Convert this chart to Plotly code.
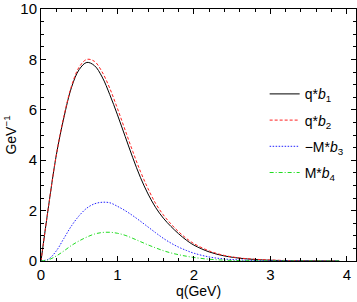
import plotly.graph_objects as go

q = [0, 0.1, 0.2, 0.3, 0.4, 0.5, 0.6, 0.7, 0.8, 0.9, 1.0, 1.1, 1.2, 1.3, 1.4, 1.5, 1.6, 1.7, 1.8, 1.9,
     2.0, 2.2, 2.4, 2.6, 2.8, 3.0, 3.3, 3.6, 3.9]
qb1 = [0, 2.2, 4.2, 5.7, 6.9, 7.6, 7.88, 7.75, 7.3, 6.6, 5.8, 4.95, 4.1, 3.32, 2.66, 2.12, 1.7, 1.37, 1.08, 0.83,
       0.63, 0.36, 0.2, 0.11, 0.06, 0.03, 0.01, 0.005, 0]
qb2 = [0, 2.2, 4.2, 5.75, 6.95, 7.7, 8.0, 7.92, 7.5, 6.85, 6.05, 5.2, 4.35, 3.56, 2.87, 2.28, 1.83, 1.47, 1.16, 0.9,
       0.69, 0.4, 0.22, 0.12, 0.07, 0.04, 0.015, 0.005, 0]
mb3 = [0, 0.08, 0.4, 0.9, 1.4, 1.8, 2.1, 2.27, 2.33, 2.31, 2.17, 2.0, 1.8, 1.58, 1.35, 1.12, 0.9, 0.71, 0.55, 0.42,
       0.31, 0.16, 0.08, 0.04, 0.02, 0.01, 0.005, 0, 0]
mb4 = [0, 0.05, 0.2, 0.4, 0.62, 0.8, 0.95, 1.07, 1.13, 1.14, 1.1, 1.02, 0.9, 0.77, 0.64, 0.52, 0.41, 0.32, 0.25, 0.19,
       0.14, 0.07, 0.035, 0.015, 0.007, 0.003, 0, 0, 0]

names = ["q*<i>b</i><sub>1</sub>", "q*<i>b</i><sub>2</sub>", "−M*<i>b</i><sub>3</sub>", "M*<i>b</i><sub>4</sub>"]
series = [qb1, qb2, mb3, mb4]
colors = ["black", "#ff2020", "#2020ff", "#20dd20"]
dashes = ["solid", "3px,2px", "1.5px,1.5px", "4px,2px,1px,2px"]

fig = go.Figure()
for i, (nm, ys, c, d) in enumerate(zip(names, series, colors, dashes)):
    fig.add_trace(go.Scatter(x=q, y=ys, mode="lines", name=nm, legendgroup=str(i),
                             line=dict(color=c, width=1, dash=d, shape="spline")))

axis_common = dict(showline=True, linecolor="black", linewidth=1, mirror="ticks", ticks="inside",
                   ticklen=5, tickcolor="black", showgrid=False, zeroline=False, automargin=False,
                   tickfont=dict(family="Liberation Sans, Arial", size=15, color="black"))
fig.update_layout(
    width=357, height=302,
    margin=dict(l=41, r=1, t=9, b=41),
    plot_bgcolor="white", paper_bgcolor="white",
    font=dict(family="Liberation Sans, Arial", size=14, color="black"),
    legend=dict(x=0.71, y=0.725, xanchor="left", yanchor="top", bgcolor="rgba(0,0,0,0)",
                tracegroupgap=5, itemwidth=30, font=dict(size=14)),
    showlegend=True,
)
fig.update_xaxes(range=[0, 4.12], dtick=1, minor=dict(dtick=0.2, ticklen=3, ticks="inside", tickcolor="black"),
                 title=dict(text="q(GeV)", standoff=2, font=dict(size=14)), **axis_common)
fig.update_yaxes(range=[0, 10], dtick=2, minor=dict(dtick=0.5, ticklen=3, ticks="inside", tickcolor="black"),
                 title=dict(text="GeV<sup>−1</sup>", standoff=0, font=dict(size=14)), **axis_common)
fig.write_html("out.html", config={"displayModeBar": False},
               post_script="document.body.style.margin='0';")
